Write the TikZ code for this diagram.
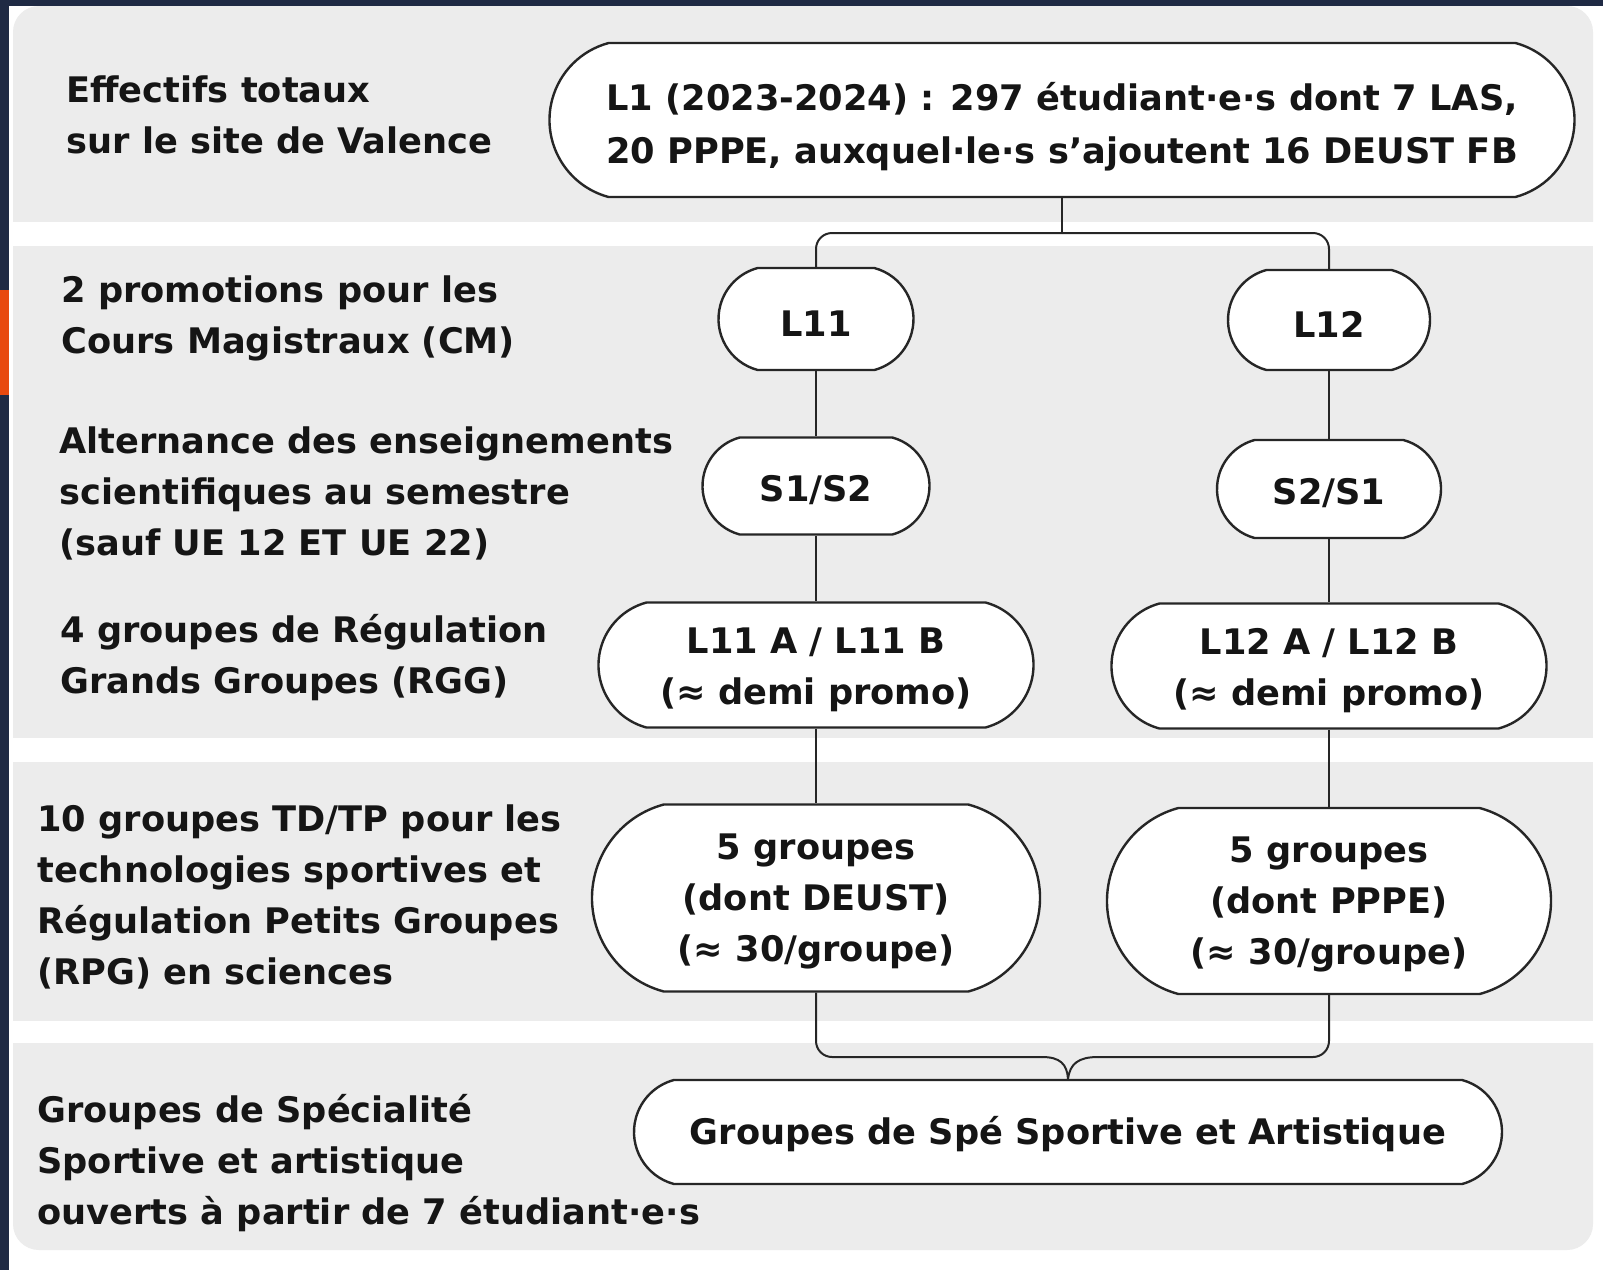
\documentclass[tikz,border=0pt]{standalone}
\usepackage{fontspec}
\setmainfont{DejaVu Sans}
\usetikzlibrary{shapes.misc}
\definecolor{navy}{HTML}{1F2A44}
\definecolor{orangebar}{HTML}{E8490F}
\definecolor{bandgrey}{HTML}{ECECEC}
\definecolor{inkc}{HTML}{151515}
\newcommand\labfont{\fontsize{17.6}{25.5}\selectfont\bfseries}
\newcommand\lowr[1]{\rule{0pt}{#1}}
\begin{document}
\begin{tikzpicture}[x=0.5pt,y=-0.5pt,
  box/.style={rounded rectangle, rounded rectangle arc length=150, draw=black!85, line width=1.2pt, fill=white, align=center, inner sep=0pt, font=\labfont, text=inkc},
  lab/.style={anchor=west, align=left, inner sep=0pt, font=\labfont, text=inkc},
  conn/.style={line width=1pt, draw=black!85}]
\useasboundingbox (0,0) rectangle (1603,1270);
% background
\fill[navy] (0,0) rectangle (1603,1270);
\fill[white] (9,6) rectangle (1603,1270);
\fill[orangebar] (0,290) rectangle (9,395);
% bands
\begin{scope}
\clip (0,0) rectangle (1603,221);
\fill[bandgrey, rounded corners=13pt] (13,6) rectangle (1593,300);
\end{scope}
\fill[bandgrey] (13,246) rectangle (1593,738);
\fill[bandgrey] (13,762) rectangle (1593,1021);
\begin{scope}
\clip (0,1043) rectangle (1603,1270);
\fill[bandgrey, rounded corners=13pt] (13,1000) rectangle (1593,1250);
\end{scope}
% left labels
\node[lab] (t1) at (66,115) {Effectifs totaux\\sur le site de Valence};
\node[lab] (t2) at (61,318) {2 promotions pour les\\Cours Magistraux (CM)};
\node[lab] (t3) at (59,493) {Alternance des enseignements\\scientifiques au semestre\\(sauf UE 12 ET UE 22)};
\node[lab] (t4) at (60,658) {4 groupes de Régulation\\Grands Groupes (RGG)};
\node[lab] (t5) at (37,897) {10 groupes TD/TP pour les\\technologies sportives et\\Régulation Petits Groupes\\(RPG) en sciences};
\node[lab] (t6) at (37,1163) {Groupes de Spécialité\\Sportive et artistique\\ouverts à partir de 7 étudiant·e·s};
% nodes
\node[box, minimum width=512.5pt, minimum height=77pt, font=\fontsize{17.6}{26.5}\selectfont\bfseries] (top) at (1062,120) {\lowr{20.5pt}L1 (2023-2024) : 297 étudiant·e·s dont 7 LAS,\\20 PPPE, auxquel·le·s s’ajoutent 16 DEUST FB};
\node[box, minimum width=97.5pt, minimum height=51pt] (L11) at (816,319) {\lowr{17.5pt}L11};
\node[box, minimum width=101pt, minimum height=50pt] (L12) at (1329,320) {\lowr{17.5pt}L12};
\node[box, minimum width=113.5pt, minimum height=48.5pt] (S12) at (816,486) {\lowr{17pt}S1/S2};
\node[box, minimum width=112pt, minimum height=49pt] (S21) at (1329,489) {\lowr{17pt}S2/S1};
\node[box, minimum width=217.5pt, minimum height=62.5pt] (L11AB) at (816,665) {\lowr{17.5pt}L11 A / L11 B\\(≈ demi promo)};
\node[box, minimum width=217.5pt, minimum height=62.5pt] (L12AB) at (1329,666) {\lowr{17.5pt}L12 A / L12 B\\(≈ demi promo)};
\node[box, minimum width=224pt, minimum height=93.5pt] (G1) at (816,898) {\lowr{16.5pt}5 groupes\\(dont DEUST)\\(≈ 30/groupe)};
\node[box, minimum width=222pt, minimum height=93pt] (G2) at (1329,901) {\lowr{16.5pt}5 groupes\\(dont PPPE)\\(≈ 30/groupe)};
\node[box, minimum width=434pt, minimum height=52pt] (spe) at (1068,1132) {\lowr{16pt}Groupes de Spé Sportive et Artistique};
% connectors
\coordinate (j1) at (1062,233);
\draw[conn] (top.south) -- (j1);
\draw[conn, rounded corners=8pt] (j1) -| (L11.north);
\draw[conn, rounded corners=8pt] (j1) -| (L12.north);
\draw[conn] (L11.south) -- (S12.north);
\draw[conn] (S12.south) -- (L11AB.north);
\draw[conn] (L11AB.south) -- (G1.north);
\draw[conn] (L12.south) -- (S21.north);
\draw[conn] (S21.south) -- (L12AB.north);
\draw[conn] (L12AB.south) -- (G2.north);
\coordinate (bl) at (1042,1057);
\coordinate (br) at (1098,1057);
\draw[conn, rounded corners=8pt] (G1.south) |- (bl);
\draw[conn, rounded corners=8pt] (G2.south) |- (br);
\draw[conn] (bl) .. controls (1060,1057) and (1067,1064) .. (spe.north);
\draw[conn] (br) .. controls (1078,1057) and (1070,1064) .. (spe.north);
\end{tikzpicture}
\end{document}
